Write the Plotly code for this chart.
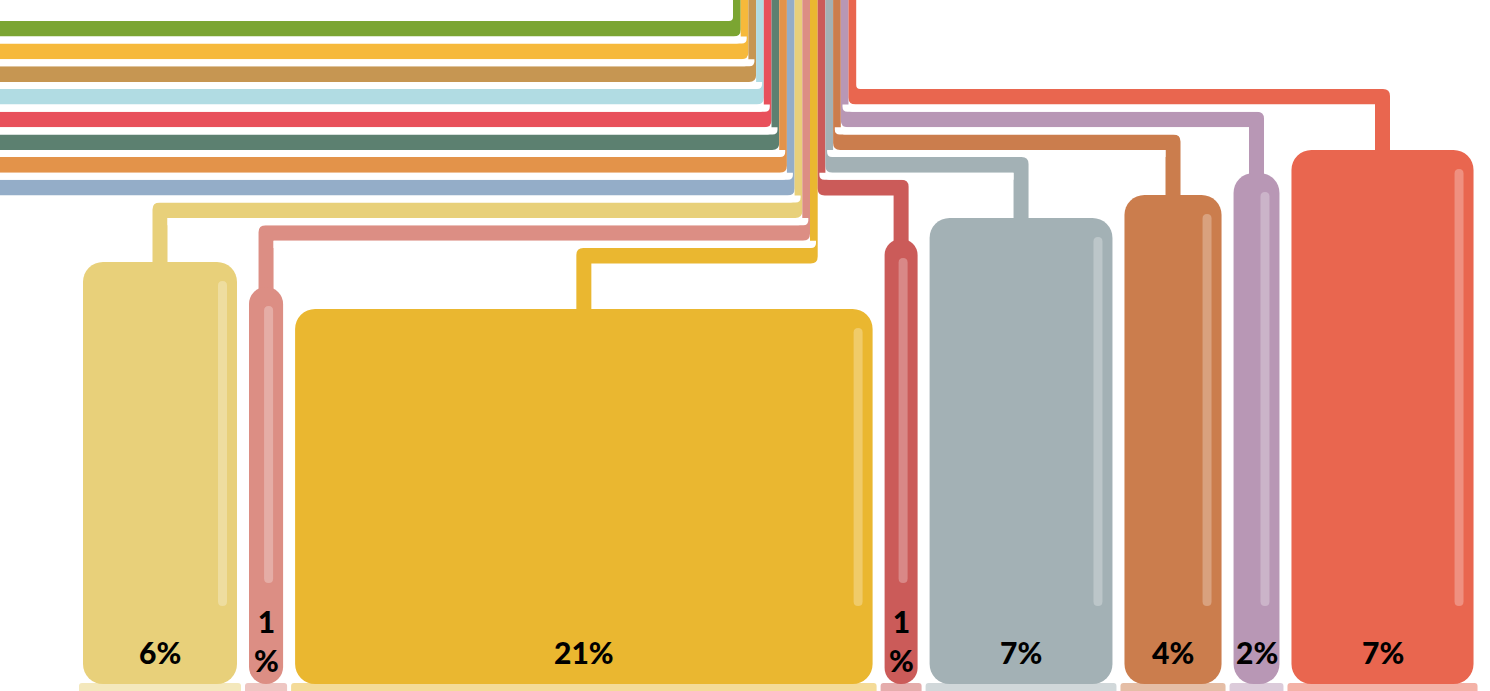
import plotly.graph_objects as go

# ---------------- data ----------------
line_names = ["Green", "Amber", "Tan", "Sky", "Crimson", "Pine", "Orange", "Slate",
              "Sand", "Rose", "Gold", "Brick", "Ash", "Copper", "Mauve", "Coral"]
line_colors = ["#7BA532", "#F6B93B", "#C69652", "#B1DCE3", "#E8505B", "#5C8070", "#E3934A", "#94ADC8",
               "#E8D07A", "#DC8E84", "#EAB730", "#CB5B59", "#A3B1B5", "#CB7D4D", "#B897B5", "#E9664F"]
bar_categories = line_names[8:]
bar_colors = line_colors[8:]
bar_shares = [5.6, 1.24, 21.0, 1.2, 6.65, 3.53, 1.67, 6.62]     # % share -> bar width
bar_heights = [422, 397, 375, 445, 466, 489, 511, 534]          # bar height

# ---------------- layout constants ----------------
W, H = 1490, 691
BASE_PY = 684            # pixel row of bar baseline
PX_PER_SHARE = 27.5
BAR_GAP = 12
X_START = 83
TRUNK_X0, TRUNK_PITCH = 733.0, 7.7
LEVEL_Y0, LEVEL_PITCH, LINE_W = 28.7, 22.7, 15.6
GAP_H = LEVEL_PITCH - LINE_W
DROP_W = 15.0
RO, RI, RG = 7.0, 4.0, 5.0


def Y(py):
    return BASE_PY - py


def blend(hexc, t):
    r, g, b = int(hexc[1:3], 16), int(hexc[3:5], 16), int(hexc[5:7], 16)
    r, g, b = [round(c + (255 - c) * t) for c in (r, g, b)]
    return f"#{r:02X}{g:02X}{b:02X}"


def path(cmds):
    out = []
    for c in cmds:
        if c[0] == "Z":
            out.append("Z")
        elif c[0] == "Q":
            out.append(f"Q{c[1]:.2f},{Y(c[2]):.2f} {c[3]:.2f},{Y(c[4]):.2f}")
        else:
            out.append(f"{c[0]}{c[1]:.2f},{Y(c[2]):.2f}")
    return " ".join(out)


# bar geometry from shares
bar_widths = [s * PX_PER_SHARE for s in bar_shares]
bar_centers = []
x = X_START
for w in bar_widths:
    bar_centers.append(x + w / 2)
    x += w + BAR_GAP
bar_tops = [BASE_PY - h for h in bar_heights]
labels = [f"{round(s)}%" for s in bar_shares]
two_line = [w < 40 for w in bar_widths]

# routes: index -> (direction, level, drop x, drop bottom)
n = len(line_names)
routes = []
for m in range(n):
    if m <= 10:
        direction, level = "L", m
    else:
        direction, level = "R", 18 - m
    b = m - 8
    if b >= 0:
        drop, bot = bar_centers[b], bar_tops[b] + 18
    else:
        drop, bot = None, None
    routes.append((direction, level, drop, bot))

shapes = []
gaps = []
for m, (direction, level, D, bot) in enumerate(routes):
    L = TRUNK_X0 + TRUNK_PITCH * m
    R = L + TRUNK_PITCH
    yc = LEVEL_Y0 + LEVEL_PITCH * level
    T, B = yc - LINE_W / 2, yc + LINE_W / 2
    col = line_colors[m]
    top = -20
    if direction == "L":
        cmds = [("M", L, top), ("L", L, T - RI), ("Q", L, T, L - RI, T)]
        if D is None:
            cmds += [("L", -20, T), ("L", -20, B)]
            ga = -20
        else:
            dl, dr = D - DROP_W / 2, D + DROP_W / 2
            cmds += [("L", dl + RO, T), ("Q", dl, T, dl, T + RO), ("L", dl, bot),
                     ("L", dr, bot), ("L", dr, B)]
            ga = dr
        cmds += [("L", R - RO, B), ("Q", R, B, R, B - RO), ("L", R, top), ("Z",)]
        if m < 10:
            gb = R + 6
            gaps.append([("M", ga, B), ("L", gb, B), ("L", gb, B + GAP_H - RG),
                         ("Q", gb, B + GAP_H, gb - RG, B + GAP_H), ("L", ga, B + GAP_H), ("Z",)])
    else:
        dl, dr = D - DROP_W / 2, D + DROP_W / 2
        cmds = [("M", R, top), ("L", R, T - RI), ("Q", R, T, R + RI, T),
                ("L", dr - RO, T), ("Q", dr, T, dr, T + RO), ("L", dr, bot),
                ("L", dl, bot), ("L", dl, B),
                ("L", L + RO, B), ("Q", L, B, L, B - RO), ("L", L, top), ("Z",)]
        if m > 11:
            ga = L - 6
            gaps.append([("M", dl, B), ("L", ga, B), ("L", ga, B + GAP_H - RG),
                         ("Q", ga, B + GAP_H, ga + RG, B + GAP_H), ("L", dl, B + GAP_H), ("Z",)])
    shapes.append(dict(type="path", path=path(cmds), xref="x", yref="y",
                       fillcolor=col, line=dict(width=0), layer="below"))

for g in gaps:
    shapes.append(dict(type="path", path=path(g), xref="x", yref="y",
                       fillcolor="white", line=dict(width=0), layer="below"))

# highlight stripes inside bars
for i in range(len(bar_shares)):
    right = bar_centers[i] + bar_widths[i] / 2
    xs = right - 14.5
    hw = 4.5
    yt = bar_tops[i] + 19
    yb = 583 if two_line[i] else 606
    cmds = [("M", xs - hw, yt + hw), ("Q", xs - hw, yt, xs, yt), ("Q", xs + hw, yt, xs + hw, yt + hw),
            ("L", xs + hw, yb - hw), ("Q", xs + hw, yb, xs, yb), ("Q", xs - hw, yb, xs - hw, yb - hw), ("Z",)]
    shapes.append(dict(type="path", path=path(cmds), xref="x", yref="y",
                       fillcolor="rgba(255,255,255,0.28)", line=dict(width=0), layer="above"))

fig = go.Figure()
fig.add_trace(go.Bar(x=bar_centers, y=[14] * len(bar_shares), base=-13,
                     width=[w + 8 for w in bar_widths],
                     marker=dict(color=[blend(c, 0.5) for c in bar_colors], cornerradius=3, line_width=0),
                     hoverinfo="skip", showlegend=False))
fig.add_trace(go.Bar(x=bar_centers, y=bar_heights, base=0, width=bar_widths,
                     marker=dict(color=bar_colors, cornerradius=20, line_width=0),
                     hovertext=bar_categories, showlegend=False))

annotations = []
for i in range(len(bar_shares)):
    if two_line[i]:
        txt = labels[i].replace("%", "<br>%")
        ypos = Y(640)
    else:
        txt = labels[i]
        ypos = Y(652)
    annotations.append(dict(x=bar_centers[i], y=ypos, xref="x", yref="y", text=txt,
                            showarrow=False, xanchor="center", yanchor="middle",
                            font=dict(family="Lato", size=30, color="#000000", weight=900)))

fig.update_layout(
    width=W, height=H, margin=dict(l=0, r=0, t=0, b=0),
    paper_bgcolor="white", plot_bgcolor="white",
    barmode="overlay", showlegend=False,
    xaxis=dict(range=[0, W], visible=False, fixedrange=True),
    yaxis=dict(range=[BASE_PY - H, BASE_PY], visible=False, fixedrange=True),
    shapes=shapes, annotations=annotations,
)
fig.write_html("out.html", config={"displayModeBar": False},
               post_script="document.body.style.margin='0';document.body.style.overflow='hidden';")
